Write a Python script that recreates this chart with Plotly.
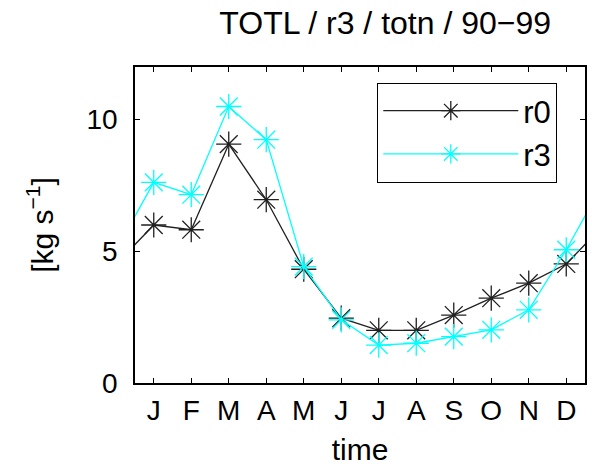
import plotly.graph_objects as go

months = ["J", "F", "M", "A", "M", "J", "J", "A", "S", "O", "N", "D"]
month_pos = list(range(1, 13))
r0 = [6.0, 5.82, 9.07, 6.96, 4.32, 2.46, 2.0, 2.0, 2.58, 3.22, 3.79, 4.52]
r3 = [7.62, 7.15, 10.5, 9.24, 4.42, 2.40, 1.44, 1.51, 1.76, 2.02, 2.78, 5.06]

# cyclic wrap: December before January, January after December (clipped by the axis range)
xw = [0] + month_pos + [13]
def wrap(v):
    return [v[-1]] + v + [v[0]]

FONT = "Liberation Sans, Arial, sans-serif"

fig = go.Figure()
for name, vals, col in [("r0", r0, "#202020"), ("r3", r3, "#00FFFF")]:
    fig.add_trace(go.Scatter(
        x=xw, y=wrap(vals), name=name, mode="lines+markers",
        line=dict(color=col, width=1.3),
        marker=dict(symbol="asterisk-open", size=21, color=col,
                    line=dict(color=col, width=1.3)),
    ))

fig.update_layout(
    width=592, height=476,
    margin=dict(l=135, r=7, t=67, b=93, autoexpand=False),
    paper_bgcolor="white", plot_bgcolor="white",
    font=dict(family=FONT, size=28, color="black"),
    title=dict(text="TOTL / r3 / totn / 90\u221299", x=0.556, xref="paper",
               xanchor="center", y=0.952, yref="container", yanchor="middle",
               font=dict(size=32)),
    showlegend=True,
    legend=dict(x=0.538, y=0.95, xanchor="left", yanchor="top",
                bordercolor="black", borderwidth=1.2, bgcolor="white",
                font=dict(size=31), itemwidth=135, tracegroupgap=0),
    xaxis=dict(range=[0.5, 12.5], tickmode="array", tickvals=month_pos,
               ticktext=months, ticks="inside", ticklen=5, tickcolor="black",
               showline=True, mirror="ticks", linecolor="black", linewidth=1.5,
               showgrid=False, zeroline=False, automargin=False,
               ticklabelstandoff=2,
               title=dict(text="time", font=dict(size=30), standoff=14)),
    yaxis=dict(range=[0, 12], tickmode="array", tickvals=[0, 5, 10],
               ticks="inside", ticklen=5, tickcolor="black",
               showline=True, mirror="ticks", linecolor="black", linewidth=1.5,
               showgrid=False, zeroline=False, automargin=False,
               ticklabelstandoff=10,
               title=dict(text="[kg s<sup>\u22121</sup>]", font=dict(size=30), standoff=24)),
)

fig.write_html("out.html", config={"displayModeBar": False},
               post_script="document.body.style.margin='0';")
